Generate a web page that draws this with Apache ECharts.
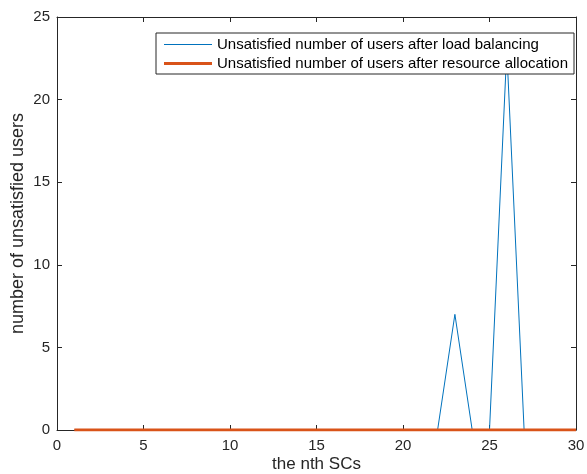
<!DOCTYPE html>
<html>
<head>
<meta charset="utf-8">
<script src="https://cdn.jsdelivr.net/npm/echarts@6/dist/echarts.min.js"></script>
<style>
  html, body { margin: 0; padding: 0; background: #fff; }
  #main { width: 587px; height: 474px; }
</style>
</head>
<body>
<div id="main"></div>
<script>
// the nth SC, 1..30
const scIndex = [1, 2, 3, 4, 5, 6, 7, 8, 9, 10, 11, 12, 13, 14, 15,
                 16, 17, 18, 19, 20, 21, 22, 23, 24, 25, 26, 27, 28, 29, 30];
// unsatisfied users after load balancing
const afterBalancing = [0, 0, 0, 0, 0, 0, 0, 0, 0, 0, 0, 0, 0, 0, 0,
                        0, 0, 0, 0, 0, 0, 0, 7, 0, 0, 23, 0, 0, 0, 0];
// unsatisfied users after resource allocation
const afterAllocation = [0, 0, 0, 0, 0, 0, 0, 0, 0, 0, 0, 0, 0, 0, 0,
                         0, 0, 0, 0, 0, 0, 0, 0, 0, 0, 0, 0, 0, 0, 0];

const font = 'Liberation Sans, Arial, Helvetica, sans-serif';
const axisColor = '#262626';

const pairs = (ys) => scIndex.map((x, i) => [x, ys[i]]);

// legend icons: a line of given thickness in the middle of a 48x14 box
const lineIcon = (w) => 'path://M0,0 L0,0 M0,' + (7 - w / 2) + ' L48,' + (7 - w / 2) +
    ' L48,' + (7 + w / 2) + ' L0,' + (7 + w / 2) + ' Z M48,14 L48,14';

const baseAxis = {
    type: 'value',
    axisLine: { show: true, onZero: false, lineStyle: { color: axisColor, width: 1 } },
    axisTick: { show: true, inside: true, length: 5, lineStyle: { color: axisColor } },
    splitLine: { show: false }
};

let option = {
    backgroundColor: '#fff',
    animation: false,
    grid: { left: 57, right: 11, top: 17, bottom: 44, containLabel: false, outerBoundsMode: 'none' },
    legend: {
        orient: 'vertical',
        left: 156,
        top: 33,
        z: 10,
        padding: [4, 6, 3, 8],
        itemGap: 4,
        itemWidth: 48,
        itemHeight: 14,
        backgroundColor: '#fff',
        borderColor: axisColor,
        borderWidth: 1,
        borderRadius: 0,
        textStyle: { fontFamily: font, fontSize: 15, color: '#000' },
        data: [
            { name: 'Unsatisfied number of users after load balancing', icon: lineIcon(1) },
            { name: 'Unsatisfied number of users after resource allocation', icon: lineIcon(3) }
        ]
    },
    xAxis: [
        Object.assign({}, baseAxis, {
            position: 'bottom',
            min: 0, max: 30, interval: 5,
            name: 'the nth SCs',
            nameLocation: 'middle',
            nameGap: 26,
            nameMoveOverlap: false,
            nameTextStyle: { fontFamily: font, fontSize: 17, color: axisColor },
            axisLabel: { fontFamily: font, fontSize: 15, color: axisColor, margin: 8 }
        }),
        Object.assign({}, baseAxis, {
            position: 'top',
            min: 0, max: 30, interval: 5,
            axisLabel: { show: false }
        })
    ],
    yAxis: [
        Object.assign({}, baseAxis, {
            position: 'left',
            min: 0, max: 25, interval: 5,
            name: 'number of unsatisfied users',
            nameLocation: 'middle',
            nameGap: 30,
            nameMoveOverlap: false,
            nameTextStyle: { fontFamily: font, fontSize: 18, color: axisColor },
            axisLabel: { fontFamily: font, fontSize: 15, color: axisColor, margin: 7 }
        }),
        Object.assign({}, baseAxis, {
            position: 'right',
            min: 0, max: 25, interval: 5,
            axisLabel: { show: false }
        })
    ],
    series: [
        {
            name: 'Unsatisfied number of users after load balancing',
            type: 'line',
            data: pairs(afterBalancing),
            symbol: 'none',
            color: '#0072BD',
            lineStyle: { color: '#0072BD', width: 1 },
            z: 2
        },
        {
            name: 'Unsatisfied number of users after resource allocation',
            type: 'line',
            data: pairs(afterAllocation),
            symbol: 'none',
            color: '#D95319',
            lineStyle: { color: '#D95319', width: 3 },
            z: 3
        }
    ]
};

let myChart = echarts.init(document.getElementById('main'));
myChart.setOption(option);
</script>
</body>
</html>
